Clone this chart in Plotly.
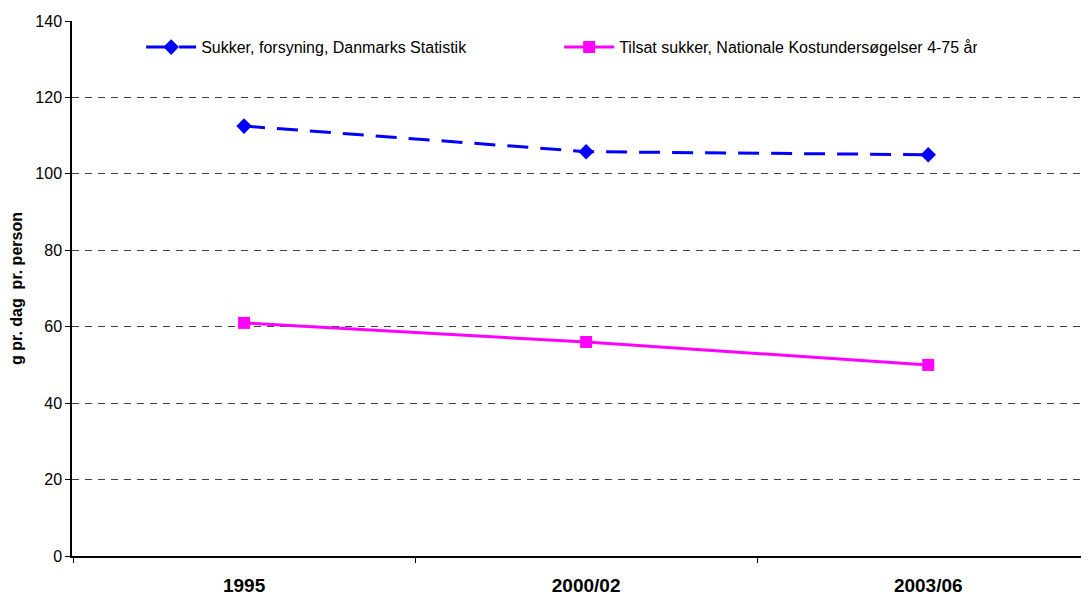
import plotly.graph_objects as go

categories = ["1995", "2000/02", "2003/06"]
sukker_forsyning = [112.5, 105.8, 105.0]
tilsat_sukker = [61.0, 56.0, 50.0]
series_names = ["Sukker, forsyning, Danmarks Statistik",
                "Tilsat sukker, Nationale Kostundersøgelser 4-75 år"]
y_ticks = [0, 20, 40, 60, 80, 100, 120, 140]

FONT = "Liberation Sans, Arial, sans-serif"

fig = go.Figure()
fig.add_trace(go.Scatter(
    x=categories, y=sukker_forsyning, name=series_names[0],
    mode="lines+markers",
    line=dict(color="#0000FF", width=3, dash="21px,12px"),
    marker=dict(symbol="diamond", size=12, color="#0000FF"),
))
fig.add_trace(go.Scatter(
    x=categories, y=tilsat_sukker, name=series_names[1],
    mode="lines+markers",
    line=dict(color="#FF00FF", width=3),
    marker=dict(symbol="square", size=12, color="#FF00FF"),
))

fig.update_layout(
    width=1081, height=586,
    margin=dict(l=64, r=0, t=13, b=38),
    plot_bgcolor="white", paper_bgcolor="white",
    font=dict(family=FONT, size=16, color="black"),
    showlegend=True,
    legend=dict(orientation="h", x=0.068, y=0.951, xanchor="left", yanchor="middle",
                entrywidth=353, entrywidthmode="pixels",
                font=dict(size=16, family=FONT), bgcolor="rgba(0,0,0,0)",
                itemwidth=50, tracegroupgap=0),
    xaxis=dict(
        type="category", range=[-0.503, 2.47], automargin=False,
        tickson="boundaries", ticks="outside", ticklen=5, tickcolor="black",
        showline=True, linecolor="black", linewidth=1.5,
        showgrid=False, zeroline=False,
        tickfont=dict(size=19, family=FONT, color="black", weight="bold"),
        ticklabelstandoff=11,
    ),
    yaxis=dict(
        range=[0, 140], tickvals=y_ticks, ticks="outside", ticklen=5, tickcolor="black",
        showline=True, linecolor="black", linewidth=1.5, automargin=False,
        showgrid=True, gridcolor="#404040", griddash="7px,6px", gridwidth=1,
        zeroline=False,
        tickfont=dict(size=16, family=FONT, color="black"),
        title=dict(text="<b>g pr. dag\u00a0\u00a0pr. person</b>", font=dict(size=16, family=FONT), standoff=16),
    ),
)

fig.write_html("out.html")
